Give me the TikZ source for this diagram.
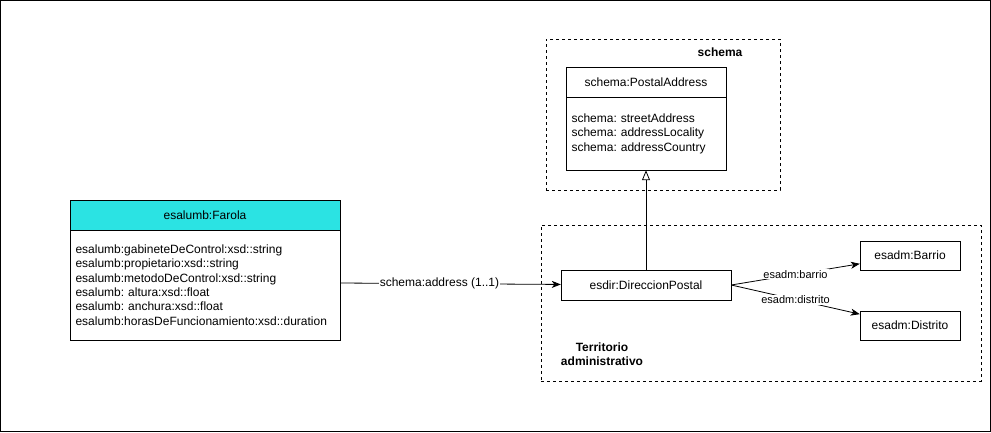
\documentclass[tikz,border=0pt]{standalone}
\usepackage{fontspec}
\setmainfont{Liberation Sans}
\usepackage{tikz}
\usetikzlibrary{arrows.meta}
\definecolor{farolacyan}{RGB}{43,227,227}
\frenchspacing

\begin{document}
\begin{tikzpicture}[x=1pt,y=-1pt]
\tikzset{classhead/.style = {shape=rectangle,draw,font=\fontsize{12}{14}\selectfont}}
\tikzset{classbody/.style = {shape=rectangle,draw,align=left,inner xsep=5.5pt,font=\fontsize{12}{14.4}\selectfont}}
\tikzset{entity/.style = {shape=rectangle,draw,minimum width=100,minimum height=29,font=\fontsize{12}{14}\selectfont}}
\tikzset{frame/.style = {shape=rectangle,draw,dashed,line width=0.8pt}}
\tikzset{lbl/.style = {font=\bfseries\fontsize{12}{14}\selectfont,align=center}}
\tikzset{edge/.style = {-{Stealth[length=9pt,width=7pt,inset=2.5pt]},line width=0.8pt}}
\tikzset{inherit/.style = {-{Triangle[open,length=10pt,width=8pt]},line width=0.8pt}}
\tikzset{edgelabel/.style = {fill=white,inner sep=1pt,font=\fontsize{11}{13}\selectfont}}
\useasboundingbox (0,0) rectangle (991,432);
\draw[line width=1pt] (0.5,0.5) rectangle (990,431);

\node[frame,minimum width=234,minimum height=151] (schemaFrame) at (663,114.5) {};
\node[lbl] (schemaLbl) at (720,52) {schema};
\node[frame,minimum width=440,minimum height=156] (territorioFrame) at (761,303) {};
\node[lbl] (territorioLbl) at (602,354.5) {Territorio\\administrativo};

\node[classhead,fill=farolacyan,minimum width=270,minimum height=30] (farolaHead) at (205,215) {esalumb:Farola};
\node[classbody,minimum width=270,minimum height=110,text width=259] (farolaBody) at (205,285) {esalumb:gabineteDeControl:xsd::string\\esalumb:propietario:xsd::string\\esalumb:metodoDeControl:xsd::string\\esalumb: altura:xsd::float\\esalumb: anchura:xsd::float\\esalumb:horasDeFuncionamiento:xsd::duration};
\node[classhead,minimum width=160,minimum height=30] (postalHead) at (646,82) {schema:PostalAddress};
\node[classbody,minimum width=160,minimum height=73,text width=149] (postalBody) at (646,133.5) {schema: streetAddress\\schema: addressLocality\\schema: addressCountry};

\node[entity,minimum width=170,minimum height=30] (dir) at (646,285) {esdir:DireccionPostal};
\node[entity] (barrio) at (910,255.5) {esadm:Barrio};
\node[entity] (distrito) at (910,325.5) {esadm:Distrito};

\draw[edge] ([yshift=2pt]farolaBody.east) to node[edgelabel,pos=0.45,font=\fontsize{12}{14}\selectfont] {schema:address (1..1)} (dir);
\draw[inherit] (dir) to (postalBody);
\draw[edge] (dir.east) to node[edgelabel] {esadm:barrio} (barrio);
\draw[edge] (dir.east) to node[edgelabel] {esadm:distrito} (distrito);
\end{tikzpicture}
\end{document}
